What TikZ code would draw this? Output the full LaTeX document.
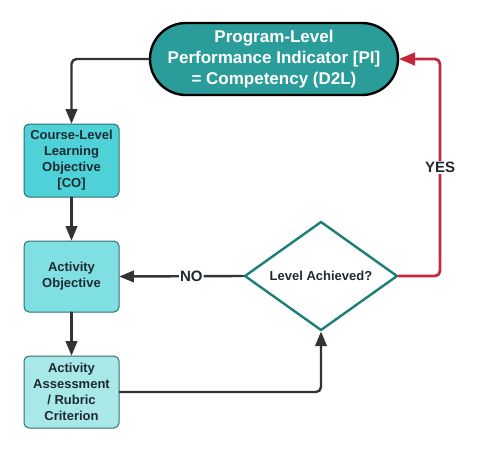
\documentclass[tikz,border=0pt]{standalone}
\usepackage{fontspec}
\setmainfont{Liberation Sans}
\usetikzlibrary{arrows,shapes.geometric}
\definecolor{piteal}{HTML}{2A9D9A}
\definecolor{cocyan}{HTML}{4ED2D8}
\definecolor{aocyan}{HTML}{80DFE2}
\definecolor{aacyan}{HTML}{A9E8E9}
\definecolor{boxedge}{HTML}{2F6F74}
\definecolor{diaedge}{HTML}{1B7F78}
\definecolor{txtdark}{HTML}{1E2A30}
\definecolor{linegray}{HTML}{333333}
\definecolor{yesred}{HTML}{C3283D}
\begin{document}
\begin{tikzpicture}[line cap=round,line join=round,>=triangle 45,x=1pt,y=-1pt,
	objbox/.style={draw=boxedge,line width=1pt,rounded corners=5pt,minimum width=95pt,align=center,text=txtdark,font=\fontsize{13}{16}\selectfont\bfseries},
	flow/.style={->,draw=linegray,line width=2.4pt,rounded corners=5pt},
	flowlabel/.style={fill=white,inner sep=1pt,text=txtdark,font=\fontsize{15}{18}\selectfont\bfseries}]
	\useasboundingbox (0,0) rectangle (481,453);
	\node[draw=black,line width=2.4pt,fill=piteal,rounded corners=36pt,minimum width=248pt,minimum height=72pt,align=center,text=white,font=\fontsize{17}{21}\selectfont\bfseries] (pi) at (274,59) {Program-Level\\Performance Indicator [PI]\\= Competency (D2L)};
	\node[objbox,fill=cocyan,minimum height=73pt] (co) at (71.5,160.5) {Course-Level\\Learning\\Objective\\{[CO]}};
	\node[objbox,fill=aocyan,minimum height=71pt] (ao) at (71.5,276.5) {Activity\\Objective};
	\node[objbox,fill=aacyan,minimum height=72pt] (aa) at (71.5,392) {Activity\\Assessment\\/ Rubric\\Criterion};
	\node[diamond,draw=diaedge,line width=2.4pt,fill=white,aspect=1.4,minimum width=153pt,minimum height=109pt,inner sep=0pt,text=txtdark,font=\fontsize{13}{16}\selectfont\bfseries] (la) at (321,276) {Level Achieved?};
	\coordinate (yesturn) at (440,276);
	\draw[flow] (pi.west) -| (co.north);
	\draw[flow] (co.south) -- (ao.north);
	\draw[flow] (ao.south) -- (aa.north);
	\draw[flow] (aa.east) -| (la.south);
	\draw[flow] (la.west) -- node[flowlabel,pos=0.42] {NO} (ao.east);
	\draw[flow,draw=yesred,line width=2.8pt] (la.east) -- (yesturn) |- node[flowlabel,pos=0.25] {YES} (pi.east);
\end{tikzpicture}
\end{document}
